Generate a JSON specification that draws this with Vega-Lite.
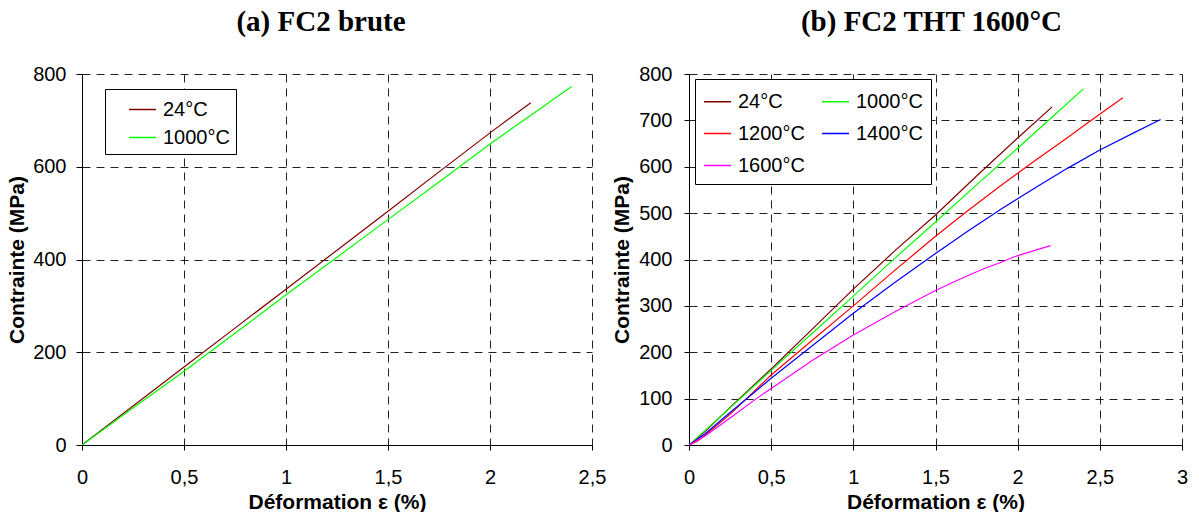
{
  "$schema": "https://vega.github.io/schema/vega-lite/v6.json",
  "background": "white",
  "padding": {"left": 6, "top": 8, "right": 0, "bottom": 0},
  "datasets": {
    "a": [
      {"serie": "24°C", "x": 0, "y": 0},
      {"serie": "24°C", "x": 0.25, "y": 84},
      {"serie": "24°C", "x": 0.5, "y": 168},
      {"serie": "24°C", "x": 0.75, "y": 252},
      {"serie": "24°C", "x": 1.0, "y": 336},
      {"serie": "24°C", "x": 1.25, "y": 420},
      {"serie": "24°C", "x": 1.5, "y": 504},
      {"serie": "24°C", "x": 1.75, "y": 589},
      {"serie": "24°C", "x": 2.0, "y": 673},
      {"serie": "24°C", "x": 2.2, "y": 738},
      {"serie": "1000°C", "x": 0, "y": 0},
      {"serie": "1000°C", "x": 0.25, "y": 80},
      {"serie": "1000°C", "x": 0.5, "y": 159},
      {"serie": "1000°C", "x": 0.75, "y": 241},
      {"serie": "1000°C", "x": 1.0, "y": 324},
      {"serie": "1000°C", "x": 1.25, "y": 405},
      {"serie": "1000°C", "x": 1.5, "y": 486},
      {"serie": "1000°C", "x": 1.75, "y": 567},
      {"serie": "1000°C", "x": 2.0, "y": 649},
      {"serie": "1000°C", "x": 2.2, "y": 711},
      {"serie": "1000°C", "x": 2.4, "y": 773}
    ],
    "b": [
      {"serie": "24°C", "x": 0, "y": 0},
      {"serie": "24°C", "x": 0.1, "y": 30},
      {"serie": "24°C", "x": 0.25, "y": 81},
      {"serie": "24°C", "x": 0.5, "y": 164},
      {"serie": "24°C", "x": 0.75, "y": 250},
      {"serie": "24°C", "x": 1.0, "y": 336},
      {"serie": "24°C", "x": 1.25, "y": 418},
      {"serie": "24°C", "x": 1.5, "y": 496},
      {"serie": "24°C", "x": 1.75, "y": 580},
      {"serie": "24°C", "x": 2.0, "y": 662},
      {"serie": "24°C", "x": 2.21, "y": 729},
      {"serie": "1000°C", "x": 0, "y": 0},
      {"serie": "1000°C", "x": 0.1, "y": 32},
      {"serie": "1000°C", "x": 0.25, "y": 80},
      {"serie": "1000°C", "x": 0.5, "y": 161},
      {"serie": "1000°C", "x": 0.75, "y": 241},
      {"serie": "1000°C", "x": 1.0, "y": 321},
      {"serie": "1000°C", "x": 1.25, "y": 402},
      {"serie": "1000°C", "x": 1.5, "y": 481},
      {"serie": "1000°C", "x": 1.75, "y": 561},
      {"serie": "1000°C", "x": 2.0, "y": 640},
      {"serie": "1000°C", "x": 2.2, "y": 704},
      {"serie": "1000°C", "x": 2.4, "y": 768},
      {"serie": "1200°C", "x": 0, "y": 0},
      {"serie": "1200°C", "x": 0.05, "y": 8},
      {"serie": "1200°C", "x": 0.1, "y": 22},
      {"serie": "1200°C", "x": 0.25, "y": 66},
      {"serie": "1200°C", "x": 0.5, "y": 151},
      {"serie": "1200°C", "x": 0.75, "y": 226},
      {"serie": "1200°C", "x": 1.0, "y": 300},
      {"serie": "1200°C", "x": 1.25, "y": 376},
      {"serie": "1200°C", "x": 1.5, "y": 450},
      {"serie": "1200°C", "x": 1.7, "y": 506},
      {"serie": "1200°C", "x": 1.9, "y": 560},
      {"serie": "1200°C", "x": 2.1, "y": 612},
      {"serie": "1200°C", "x": 2.3, "y": 662},
      {"serie": "1200°C", "x": 2.45, "y": 701},
      {"serie": "1200°C", "x": 2.64, "y": 749},
      {"serie": "1400°C", "x": 0, "y": 0},
      {"serie": "1400°C", "x": 0.1, "y": 25},
      {"serie": "1400°C", "x": 0.25, "y": 70},
      {"serie": "1400°C", "x": 0.5, "y": 144},
      {"serie": "1400°C", "x": 0.75, "y": 214},
      {"serie": "1400°C", "x": 1.0, "y": 284},
      {"serie": "1400°C", "x": 1.25, "y": 350},
      {"serie": "1400°C", "x": 1.5, "y": 413},
      {"serie": "1400°C", "x": 1.7, "y": 462},
      {"serie": "1400°C", "x": 1.9, "y": 509},
      {"serie": "1400°C", "x": 2.1, "y": 553},
      {"serie": "1400°C", "x": 2.3, "y": 596},
      {"serie": "1400°C", "x": 2.5, "y": 636},
      {"serie": "1400°C", "x": 2.7, "y": 672},
      {"serie": "1400°C", "x": 2.87, "y": 702},
      {"serie": "1600°C", "x": 0, "y": 0},
      {"serie": "1600°C", "x": 0.1, "y": 20},
      {"serie": "1600°C", "x": 0.25, "y": 58},
      {"serie": "1600°C", "x": 0.41, "y": 100},
      {"serie": "1600°C", "x": 0.5, "y": 122},
      {"serie": "1600°C", "x": 0.75, "y": 182},
      {"serie": "1600°C", "x": 1.0, "y": 237},
      {"serie": "1600°C", "x": 1.25, "y": 287},
      {"serie": "1600°C", "x": 1.5, "y": 333},
      {"serie": "1600°C", "x": 1.65, "y": 358},
      {"serie": "1600°C", "x": 1.8, "y": 381},
      {"serie": "1600°C", "x": 1.9, "y": 394},
      {"serie": "1600°C", "x": 1.98, "y": 406},
      {"serie": "1600°C", "x": 2.1, "y": 419},
      {"serie": "1600°C", "x": 2.2, "y": 430}
    ]
  },
  "config": {
    "font": "Liberation Sans",
    "view": {"stroke": null},
    "axis": {
      "labelFont": "Liberation Sans",
      "labelFontSize": 20,
      "labelColor": "#000",
      "titleFont": "Liberation Sans",
      "titleFontSize": 21,
      "titleFontWeight": "bold",
      "titleColor": "#000",
      "domainColor": "#000",
      "domainWidth": 1,
      "tickColor": "#000",
      "tickSize": 5,
      "grid": true,
      "gridColor": "#222",
      "gridDash": [8, 6],
      "gridWidth": 1,
      "gridOpacity": 1,
      "labelFlush": false,
      "labelOverlap": false
    },
    "legend": {
      "orient": "none",
      "title": null,
      "fillColor": "white",
      "strokeColor": "#000",
      "symbolType": "stroke",
      "symbolSize": 729,
      "symbolStrokeWidth": 1.5,
      "labelFont": "Liberation Sans",
      "labelFontSize": 20,
      "labelColor": "#000",
      "labelOffset": 6
    }
  },
  "bounds": "flush",
  "spacing": 97,
  "resolve": {"scale": {"color": "independent"}, "legend": {"color": "independent"}},
  "hconcat": [
    {
      "width": 510,
      "height": 371,
      "title": {"text": "(a) FC2 brute", "font": "Liberation Serif", "fontSize": 29, "fontWeight": "bold", "color": "#000", "anchor": "middle", "dx": -16, "baseline": "alphabetic", "offset": 4},
      "data": {"name": "a"},
      "mark": {"type": "line", "strokeWidth": 1.2, "clip": true},
      "encoding": {
        "x": {"field": "x", "type": "quantitative", "scale": {"domain": [0, 2.5], "nice": false},
          "axis": {"title": "Déformation ε (%)", "values": [0, 0.5, 1, 1.5, 2, 2.5], "format": "~g", "labelExpr": "replace(datum.label, '.', ',')", "labelPadding": 17, "titlePadding": 4}},
        "y": {"field": "y", "type": "quantitative", "scale": {"domain": [0, 800], "nice": false},
          "axis": {"title": "Contrainte (MPa)", "values": [0, 200, 400, 600, 800], "labelPadding": 10, "titlePadding": 5, "tickSize": 6}},
        "color": {"field": "serie", "type": "nominal", "scale": {"domain": ["24°C", "1000°C"], "range": ["#800000", "#00FF00"]},
          "legend": {"legendX": 23, "legendY": 15, "padding": 6, "symbolOffset": 17, "rowPadding": 3, "labelLimit": 200}}
      }
    },
    {
      "width": 493,
      "height": 371,
      "title": {"text": "(b) FC2 THT 1600°C", "font": "Liberation Serif", "fontSize": 29, "fontWeight": "bold", "color": "#000", "anchor": "middle", "dx": -4, "baseline": "alphabetic", "offset": 4},
      "data": {"name": "b"},
      "mark": {"type": "line", "strokeWidth": 1.2, "clip": true},
      "encoding": {
        "x": {"field": "x", "type": "quantitative", "scale": {"domain": [0, 3], "nice": false},
          "axis": {"title": "Déformation ε (%)", "values": [0, 0.5, 1, 1.5, 2, 2.5, 3], "format": "~g", "labelExpr": "replace(datum.label, '.', ',')", "labelPadding": 17, "titlePadding": 4}},
        "y": {"field": "y", "type": "quantitative", "scale": {"domain": [0, 800], "nice": false},
          "axis": {"title": "Contrainte (MPa)", "values": [0, 100, 200, 300, 400, 500, 600, 700, 800], "labelPadding": 12, "titlePadding": 6}},
        "color": {"field": "serie", "type": "nominal", "scale": {"domain": ["24°C", "1200°C", "1600°C", "1000°C", "1400°C"], "range": ["#800000", "#FF0000", "#FF00FF", "#00FF00", "#0000FF"]},
          "legend": {"legendX": 6, "legendY": 5, "padding": 8, "columns": 2, "columnPadding": 14, "rowPadding": 7}}
      }
    }
  ]
}
